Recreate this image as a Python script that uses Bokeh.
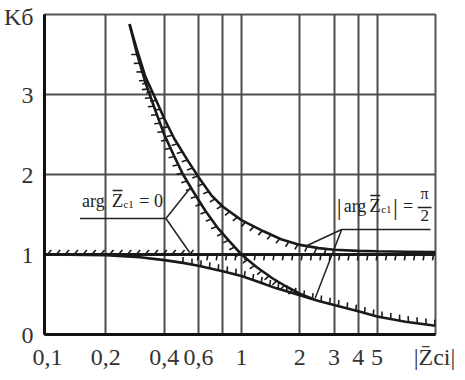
import math
from bokeh.plotting import figure
from bokeh.models import Range1d, FixedTicker, Label, CustomJSTickFormatter
from bokeh.embed import file_html
from bokeh.resources import INLINE

# ---------------- data ----------------
x_ticks = [0.1, 0.2, 0.4, 0.6, 1, 2, 3, 4, 5]
x_tick_labels = ["0,1", "0,2", "0,4", "0,6", "1", "2", "3", "4", "5"]
x_grid = [0.2, 0.4, 0.6, 0.8, 1, 2, 3, 4, 5]
y_ticks = [0, 1, 2, 3]
y_grid = [1, 2, 3]
x_title = "|Z\u0304ci|"
y_title = "K\u0431"

# arg Z = 0 : upper bound
zero_up_x = [0.265, 0.29, 0.32, 0.36, 0.4, 0.45, 0.5, 0.56, 0.65, 0.75, 0.87, 1.0, 1.2, 1.45, 1.7, 2.0, 2.3]
zero_up_y = [3.88, 3.5, 3.15, 2.8, 2.5, 2.23, 2.0, 1.8, 1.55, 1.34, 1.16, 1.0, 0.84, 0.7, 0.6, 0.51, 0.45]

# common lower curve
low_x = [0.1, 0.2, 0.3, 0.4, 0.5, 0.6, 0.8, 1.0, 1.25, 1.5, 2.0, 2.5, 3.0, 4.0, 5.0, 7.0, 10.0]
low_y = [1.0, 0.99, 0.965, 0.93, 0.895, 0.86, 0.79, 0.73, 0.65, 0.58, 0.49, 0.42, 0.37, 0.29, 0.225, 0.16, 0.11]

# |arg Z| = pi/2 : upper bound
half_x = [0.265, 0.29, 0.32, 0.36, 0.4, 0.45, 0.53, 0.6, 0.7, 0.8, 1.0, 1.3, 1.6, 2.0, 2.5, 3.0, 4.0, 5.0, 7.0, 10.0]
half_y = [3.88, 3.55, 3.22, 2.95, 2.7, 2.45, 2.17, 1.97, 1.74, 1.6, 1.43, 1.29, 1.19, 1.12, 1.08, 1.06, 1.045, 1.04, 1.035, 1.03]

# K = 1 line
one_x = [0.0966, 10.0]
one_y = [1.0, 1.0]

# ---------------- layout ----------------
FIG_W, FIG_H = 465, 380
FL, FR, FT, FB = 39, 435, 14, 334      # frame edges in page pixels
X0, X1, Y0, Y1 = 0.0966, 10.0, 0.0, 4.0
SERIF = "Liberation Serif"
INK = "#1a1a1a"


def to_px(x, y):
    px = FL + (math.log10(x) - math.log10(X0)) / (math.log10(X1) - math.log10(X0)) * (FR - FL)
    py = FB - (y - Y0) / (Y1 - Y0) * (FB - FT)
    return px, py


def px2x(px):
    return 10 ** (math.log10(X0) + (px - FL) / (FR - FL) * (math.log10(X1) - math.log10(X0)))


def py2y(py):
    return Y0 + (FB - py) / (FB - FT) * (Y1 - Y0)


p = figure(width=FIG_W, height=FIG_H, x_axis_type="log",
           x_range=Range1d(X0, X1), y_range=Range1d(Y0, Y1),
           output_backend="svg", toolbar_location=None,
           min_border_left=FL, min_border_right=FIG_W - FR,
           min_border_top=FT, min_border_bottom=FIG_H - FB)
p.background_fill_color = "white"
p.border_fill_color = "white"
p.outline_line_color = "#555555"
p.outline_line_width = 2

for ax in (p.xaxis, p.yaxis):
    ax.axis_line_color = "#111111"
    ax.axis_line_width = 3
    ax.major_tick_line_color = None
    ax.minor_tick_line_color = None
    ax.major_label_text_font = SERIF
    ax.major_label_text_font_size = "24px"
    ax.major_label_text_color = "#333333"

# x axis: numeric ticks plus the axis title placed at the right end of the tick row
x_title_pos = round(px2x(434), 4)
p.xaxis.ticker = FixedTicker(ticks=x_ticks + [x_title_pos])
p.xaxis.formatter = CustomJSTickFormatter(
    args=dict(tvals=x_ticks, tlabels=x_tick_labels, xtitle=x_title),
    code="""
        for (let i = 0; i < tvals.length; i++) {
            if (Math.abs(tvals[i] - tick) < 1e-6) return tlabels[i];
        }
        return xtitle;
    """)
p.xaxis.major_label_standoff = 3

# y axis: numeric ticks plus the axis title at the top
y_title_pos = round(py2y(16), 4)
p.yaxis.ticker = FixedTicker(ticks=y_ticks + [y_title_pos])
p.yaxis.formatter = CustomJSTickFormatter(
    args=dict(ytitle=y_title),
    code="return tick > 3.5 ? ytitle : String(tick);")
p.yaxis.major_label_standoff = 5

p.xgrid.ticker = FixedTicker(ticks=x_grid)
p.ygrid.ticker = FixedTicker(ticks=y_grid)
for g in (p.xgrid, p.ygrid):
    g.grid_line_color = "#4d4d4d"
    g.grid_line_width = 2
    g.grid_line_alpha = 1

# ---------------- curves ----------------
p.line(one_x, one_y, line_color=INK, line_width=3)
p.line(low_x, low_y, line_color=INK, line_width=2.6)
p.line(zero_up_x, zero_up_y, line_color=INK, line_width=2.6)
p.line(half_x, half_y, line_color=INK, line_width=2.6)


def hatch(xs, ys, x_from, x_to, side, step, length, slant_deg):
    pts = [to_px(x, y) for x, y in zip(xs, ys)]
    dense = []
    for i in range(len(pts) - 1):
        (ax_, ay_), (bx_, by_) = pts[i], pts[i + 1]
        n = max(2, int(math.hypot(bx_ - ax_, by_ - ay_) * 2))
        for k in range(n):
            t = k / n
            dense.append((ax_ + (bx_ - ax_) * t, ay_ + (by_ - ay_) * t))
    dense.append(pts[-1])
    pf, pt = to_px(x_from, 1)[0], to_px(x_to, 1)[0]
    a = math.radians(slant_deg)
    x0s, y0s, x1s, y1s = [], [], [], []
    acc = step
    for i in range(1, len(dense) - 1):
        (ax_, ay_), (bx_, by_) = dense[i - 1], dense[i]
        acc += math.hypot(bx_ - ax_, by_ - ay_)
        if bx_ < pf or bx_ > pt:
            continue
        if acc >= step:
            acc = 0
            cx_, cy_ = dense[i + 1]
            tx, ty = cx_ - ax_, cy_ - ay_
            L = math.hypot(tx, ty) or 1
            tx, ty = tx / L, ty / L
            if side == "up":
                nx, ny = ty, -tx
            else:
                nx, ny = -ty, tx
            dx = nx * math.cos(a) + tx * math.sin(a)
            dy = ny * math.cos(a) + ty * math.sin(a)
            ex, ey = bx_ + dx * length, by_ + dy * length
            x0s.append(px2x(bx_)); y0s.append(py2y(by_))
            x1s.append(px2x(ex)); y1s.append(py2y(ey))
    p.segment(x0s, y0s, x1s, y1s, line_color=INK, line_width=1.6)


hatch(one_x, one_y, 0.1, 0.56, "up", 9, 6, 40)
hatch(one_x, one_y, 0.6, 10, "down", 9.5, 6, -10)
hatch(low_x, low_y, 0.5, 10, "up", 9, 6, -10)
hatch(zero_up_x, zero_up_y, 0.29, 2.0, "down", 9, 6, -15)
hatch(half_x, half_y, 0.33, 3.0, "down", 9.5, 6, -15)

# ---------------- annotations ----------------
def lbl(px, py, text, size, align="left", color="#222222"):
    p.add_layout(Label(x=px2x(px), y=py2y(py), text=text, text_font=SERIF,
                       text_font_size=f"{size}px", text_align=align,
                       text_baseline="alphabetic", text_color=color))


def seg(pxa, pya, pxb, pyb, w=1.5):
    p.segment([px2x(pxa)], [py2y(pya)], [px2x(pxb)], [py2y(pyb)], line_color="#222222", line_width=w)


# left label: arg Z = 0
lbl(77, 200, "arg", 18)
lbl(107, 200, "Z", 19)
seg(108, 190, 118, 190, 1.3)
lbl(119, 203, "c1", 11)
lbl(135, 200, "= 0", 18)
seg(75, 218, 162, 218)
seg(162, 218, 187, 187)
seg(162, 218, 186, 252)

# right label: |arg Z| = pi/2
lbl(335, 206, "|", 24)
lbl(342, 205, "arg", 18)
lbl(368, 205, "Z", 19)
seg(369, 195, 379, 195, 1.3)
lbl(380, 208, "c1", 11)
lbl(392, 206, "|", 24)
lbl(402, 205, "=", 18)
lbl(424, 193, "\u03c0", 16, align="center")
seg(417, 207, 431, 207, 1.3)
lbl(424, 215, "2", 17, align="center")
seg(340, 229, 430, 229)
seg(340, 229, 305, 245)
seg(340, 229, 313, 298)

open("out.html", "w").write(file_html(p, INLINE))
